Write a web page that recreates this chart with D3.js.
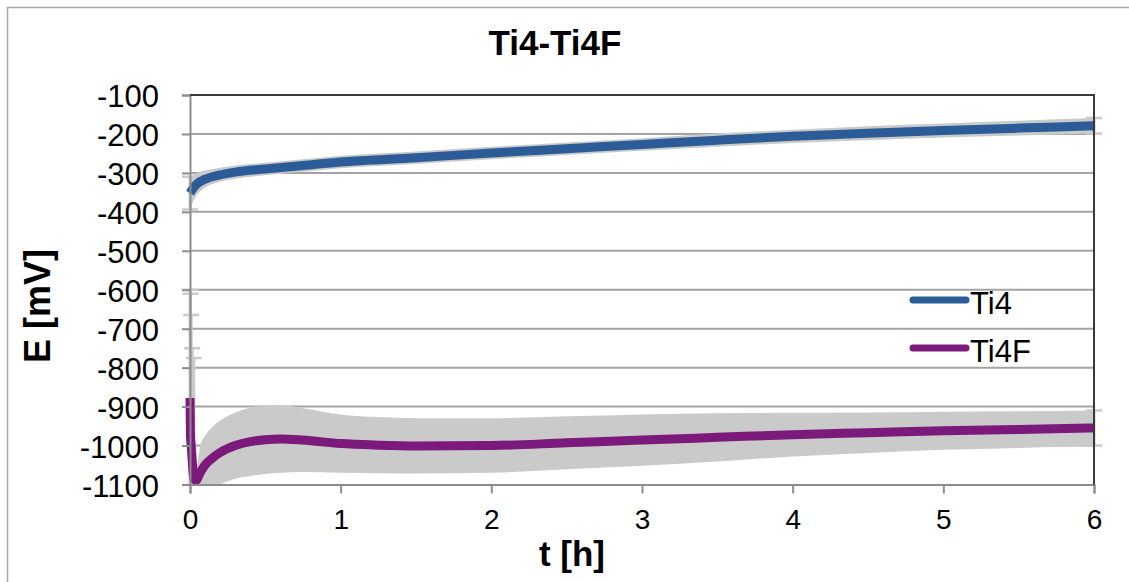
<!DOCTYPE html>
<html>
<head>
<meta charset="utf-8">
<script src="https://cdn.jsdelivr.net/npm/d3@7"></script>
<style>
  html, body { margin: 0; padding: 0; background: #fff; }
  svg { display: block; }
  text { font-family: "Liberation Sans", Arial, sans-serif; fill: #000; }
</style>
</head>
<body>
<svg id="chart" width="1129" height="582"></svg>
<script>
// ---- data ----
const title = "Ti4-Ti4F";
const xLabel = "t [h]";
const yLabel = "E [mV]";
const seriesNames = ["Ti4", "Ti4F"];
const xTicks = [0, 1, 2, 3, 4, 5, 6];
const yTicks = [-100, -200, -300, -400, -500, -600, -700, -800, -900, -1000, -1100];

const ti4T  = [0, 0.02, 0.05, 0.1, 0.2, 0.3, 0.5, 0.75, 1, 1.5, 2, 2.5, 3, 3.5, 4, 4.5, 5, 5.5, 6];
const ti4E  = [-352, -340, -327, -316, -305, -298, -290, -281, -272, -261, -249, -238, -227, -216, -206, -198, -191, -185, -179];
const ti4Sd = [42, 35, 28, 22, 18, 17, 16, 16, 16, 16, 16, 16, 16, 17, 17, 18, 18, 19, 20];

const ti4fT  = [0, 0.003, 0.008, 0.015, 0.025, 0.04, 0.07, 0.1, 0.15, 0.2, 0.3, 0.4, 0.5, 0.6, 0.75, 1.0, 1.25, 1.5, 2.0, 2.5, 3.0, 3.5, 4.0, 4.5, 5.0, 5.5, 6.0];
const ti4fE  = [-878, -975, -1000, -1040, -1085, -1089, -1068, -1050, -1032, -1018, -1000, -990, -985, -983, -986, -995, -999, -1001, -1000, -993, -986, -979, -972, -967, -962, -959, -955];
const ti4fSd = [278, 365, 335, 290, 310, 30, 70, 75, 80, 82, 85, 88, 88, 87, 82, 75, 72, 71, 70, 68, 66, 62, 56, 52, 49, 47, 45];

const colors = ["#2B5C97", "#7B1A7B"];
const bandColor = "#CACACA";

// ---- layout ----
const svg = d3.select("#chart");
const x = d3.scaleLinear().domain([0, 6]).range([190, 1094]);
const y = d3.scaleLinear().domain([-1100, -100]).range([484.5, 95]);
const fmt = d => String(d);

// outer border
svg.append("rect").attr("x", 7.5).attr("y", 7.5).attr("width", 1300).attr("height", 800)
  .attr("fill", "none").attr("stroke", "#A8A8A8").attr("stroke-width", 1.5);

// gridlines
svg.append("g").selectAll("line").data(yTicks.filter(d => d > -1100)).join("line")
  .attr("x1", x(0)).attr("x2", x(6)).attr("y1", d => y(d)).attr("y2", d => y(d))
  .attr("stroke", "#A3A3A3").attr("stroke-width", 2);

// clip
const defs = svg.append("defs");
defs.append("clipPath").attr("id", "clip").append("rect")
  .attr("x", 170).attr("y", y(-100)).attr("width", 950).attr("height", y(-1100) - y(-100));

const plot = svg.append("g").attr("clip-path", "url(#clip)");

const series = [
  { t: ti4T, e: ti4E, sd: ti4Sd, color: colors[0] },
  { t: ti4fT, e: ti4fE, sd: ti4fSd, color: colors[1] }
].map(s => ({ ...s, pts: s.t.map((t, i) => ({ t, e: s.e[i], sd: s.sd[i] })) }));

// bands (error range)
series.forEach(s => {
  const area = d3.area().x(d => x(d.t)).y0(d => y(d.e - d.sd)).y1(d => y(d.e + d.sd)).curve(d3.curveMonotoneX);
  plot.append("path").datum(s.pts).attr("d", area).attr("fill", bandColor);
  const capPts = s.pts.filter((d, i) => d.sd > 150 || i === 0 || i === s.pts.length - 1);
  capPts.forEach(d => {
    [d.e + d.sd, d.e - d.sd].forEach(v => {
      plot.append("line").attr("x1", x(d.t) - 8).attr("x2", x(d.t) + 8)
        .attr("y1", y(v)).attr("y2", y(v)).attr("stroke", bandColor).attr("stroke-width", 2.5);
    });
    plot.append("line").attr("x1", x(d.t)).attr("x2", x(d.t))
      .attr("y1", y(d.e + d.sd)).attr("y2", y(d.e - d.sd)).attr("stroke", bandColor).attr("stroke-width", 3);
  });
});

// lines
series.forEach(s => {
  const line = d3.line().x(d => x(d.t)).y(d => y(d.e)).curve(d3.curveMonotoneX);
  plot.append("path").datum(s.pts).attr("d", line).attr("fill", "none")
    .attr("stroke", s.color).attr("stroke-width", 9).attr("stroke-linejoin", "round");
});

// axes
const yAxis = svg.append("g").attr("transform", `translate(${x(0)},0)`)
  .call(d3.axisLeft(y).tickValues(yTicks).tickSize(8).tickPadding(23).tickFormat(fmt));
const xAxis = svg.append("g").attr("transform", `translate(0,${y(-1100)})`)
  .call(d3.axisBottom(x).tickValues(xTicks).tickSize(9).tickPadding(16).tickFormat(fmt));
[yAxis, xAxis].forEach(g => {
  g.select(".domain").attr("stroke", "#8C8C8C").attr("stroke-width", 2);
  g.selectAll(".tick line").attr("stroke", "#8C8C8C").attr("stroke-width", 2);
});
yAxis.selectAll(".tick text").attr("font-size", 31).attr("font-family", "Liberation Sans, Arial, sans-serif")
  .attr("dy", "0.38em").attr("fill", "#000");
xAxis.selectAll(".tick text").attr("font-size", 28).attr("font-family", "Liberation Sans, Arial, sans-serif")
  .attr("fill", "#000");

// top and right frame
svg.append("line").attr("x1", x(0)).attr("x2", x(6) + 1).attr("y1", y(-100)).attr("y2", y(-100))
  .attr("stroke", "#3A3A3A").attr("stroke-width", 2);
svg.append("line").attr("x1", x(6)).attr("x2", x(6)).attr("y1", y(-100)).attr("y2", y(-1100))
  .attr("stroke", "#3A3A3A").attr("stroke-width", 2);

// title and labels
svg.append("text").attr("x", 555).attr("y", 55).attr("text-anchor", "middle")
  .attr("font-size", 35).attr("font-weight", "bold").text(title);
svg.append("text").attr("transform", "translate(50,306) rotate(-90)").attr("text-anchor", "middle")
  .attr("font-size", 36).attr("font-weight", "bold").text(yLabel);
svg.append("text").attr("x", 572).attr("y", 566).attr("text-anchor", "middle")
  .attr("font-size", 35).attr("font-weight", "bold").text(xLabel);

// legend
const legendY = [300, 348];
seriesNames.forEach((name, i) => {
  svg.append("line").attr("x1", 913).attr("x2", 966).attr("y1", legendY[i]).attr("y2", legendY[i])
    .attr("stroke", colors[i]).attr("stroke-width", 7).attr("stroke-linecap", "round");
  svg.append("text").attr("x", 970).attr("y", legendY[i] + 14).attr("font-size", 31).text(name);
});
</script>
</body>
</html>
